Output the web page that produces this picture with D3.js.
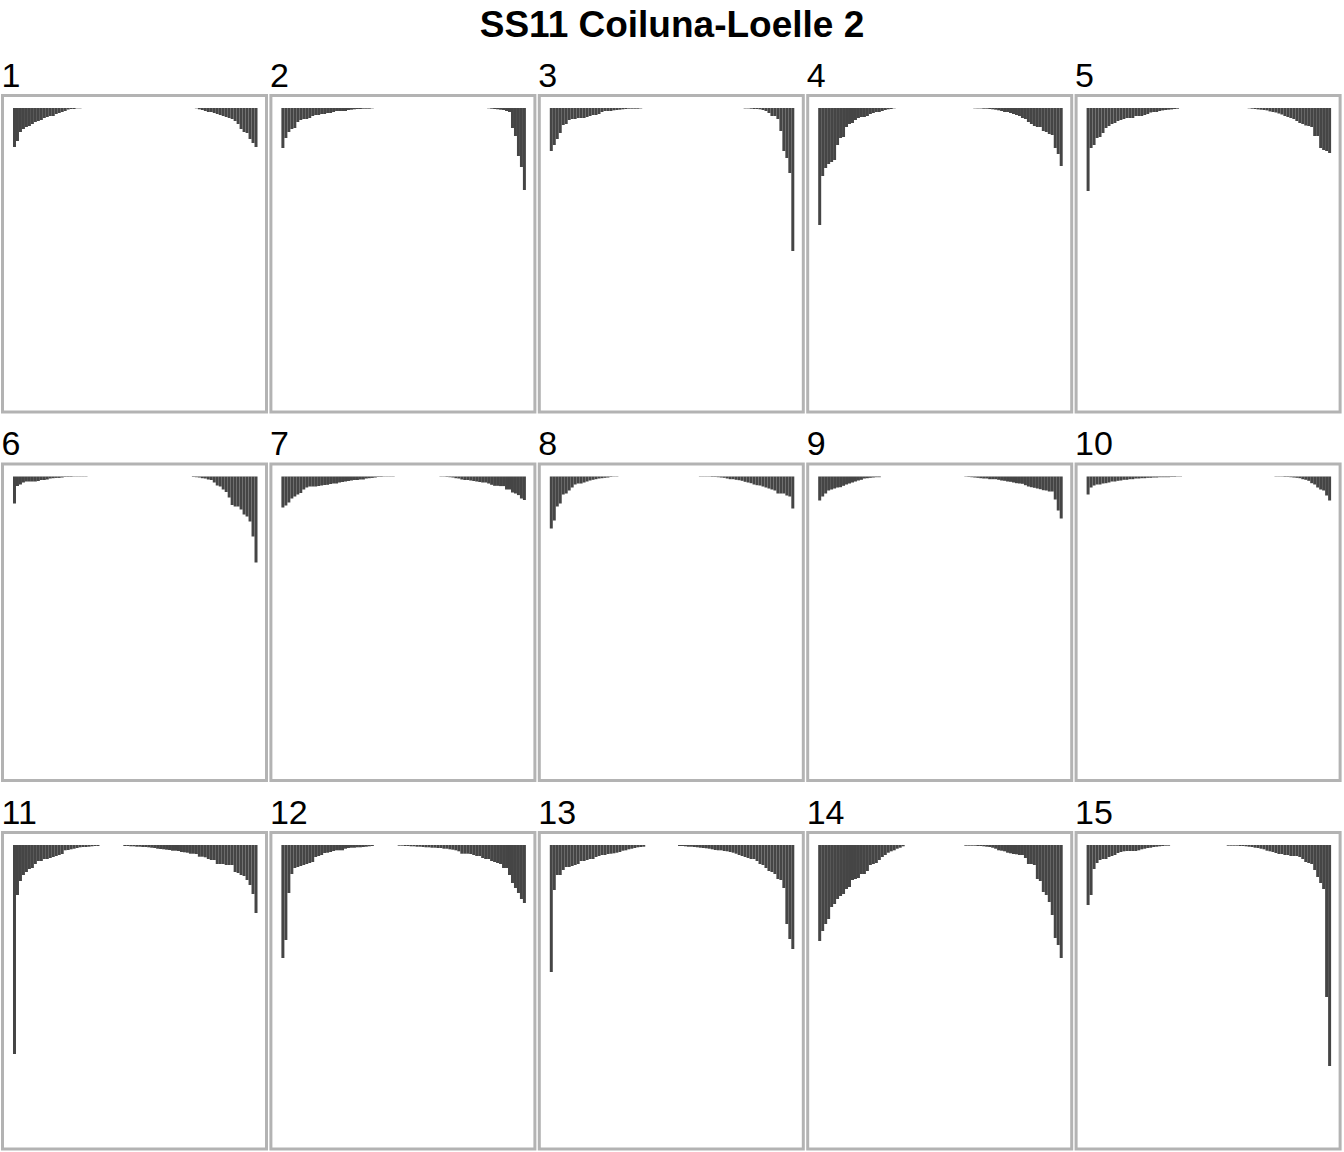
<!DOCTYPE html>
<html>
<head>
<meta charset="utf-8">
<script src="https://cdn.jsdelivr.net/npm/d3@7"></script>
<style>
    body { margin: 0; background: #fff; }
    text { font-family: "Liberation Sans", Arial, sans-serif; }
</style>
</head>
<body>
<div id="chart"></div>
<script>
const title = 'SS11 Coiluna-Loelle 2';
const panels = ['1', '2', '3', '4', '5', '6', '7', '8', '9', '10', '11', '12', '13', '14', '15'];

// depth of each bar, from the left edge of the panel inwards
const leftBars = [
    [39, 33, 24, 21, 19, 18, 16, 14, 13, 12, 10, 9, 8, 8, 6, 5, 4, 3, 1.5, 1, 1, 0.3, 0.3],
    [40, 30, 24, 21, 20, 14, 12, 11, 11, 10, 8, 7, 7, 6, 6, 5, 5, 4, 3, 3, 3, 3, 2, 1.7, 1.3, 1, 1, 0.7, 0.7, 0.7, 0.3],
    [43, 37, 31, 25, 17, 16, 12, 11, 11, 10, 10, 10, 9, 8, 7, 7, 6, 4, 3, 3, 3, 2.3, 2, 1.7, 1.3, 1, 0.7, 0.7, 0.7, 0.7, 0.4],
    [117, 68, 60, 56, 54, 52, 37, 30, 29, 19, 16, 15, 12, 10, 9, 9, 8, 6, 5, 4, 4, 3, 2, 1.3, 1, 0.3],
    [83, 40, 37, 30, 29, 25, 20, 18, 16, 15, 13, 12, 11, 10, 10, 10, 8, 8, 8, 7, 6, 4.5, 4, 4, 3, 2.4, 2, 1.7, 1.4, 1, 0.7],
    [27, 9.5, 8, 6, 5, 5, 5, 5, 4.5, 3.5, 3.5, 3, 2, 1.7, 1.4, 1.4, 1, 0.5, 0.5, 0.5, 0.3, 0.3, 0.3, 0.3, 0.3],
    [31, 29, 26, 22, 20, 18, 16.5, 13, 11, 10, 10, 10, 9.5, 9, 8.5, 8.3, 7.5, 7, 7, 6, 5.5, 5, 4.5, 4, 3.5, 3.5, 3, 3, 2, 1.7, 1.4, 1, 0.5, 0.5, 0.3, 0.3, 0.3, 0.3],
    [52, 44, 30, 27, 18, 17, 14, 11, 8, 7, 7, 6, 5, 4, 3.3, 2.7, 2, 1.7, 1.3, 1, 0.5, 0.3, 0.3],
    [24, 20, 17, 14, 13, 12, 11, 10.7, 9.3, 8, 7, 6, 5, 4, 3.3, 2, 1.7, 1.3, 1, 0.7, 0.7],
    [18, 11, 9, 8, 8, 7, 6.7, 6, 5, 5, 4.3, 4, 3.3, 3.3, 2.7, 2.7, 2, 2, 1.7, 1.7, 1.3, 1.3, 1, 1, 0.7, 0.7, 0.7, 0.7, 0.5, 0.5, 0.3, 0.3],
    [209, 50, 36, 30, 27, 24, 23, 19, 16, 16, 14, 14, 13, 12, 11, 10, 9, 5.3, 5, 4.3, 3.7, 3, 2.3, 2, 2, 1.7, 1.3, 1, 1],
    [113, 95, 48, 29, 23, 22, 21, 20, 19, 18, 17, 12, 11, 10, 8, 7.7, 7, 6, 5.3, 5.3, 5.3, 3.7, 3, 2.7, 2.7, 2.3, 2.3, 2, 1.7, 1.3, 1],
    [127, 45, 30, 30, 25, 22, 22, 21, 20, 19, 16, 16, 15, 14, 14, 12, 11, 10, 10, 9, 8.7, 8.3, 7.7, 7, 5.7, 5.3, 4.3, 3.7, 3, 2.3, 2, 1.7],
    [96, 86, 79, 74, 62, 59, 54, 51, 49, 44, 42, 35, 34, 33, 29, 29, 26, 20, 19, 18, 15, 12, 10, 7.7, 6.3, 5.3, 3.7, 2.7, 1.3],
    [60, 50, 24, 18, 15, 14, 14, 12, 11, 10, 8, 7, 6.3, 6, 6, 6, 6, 5.3, 4.3, 3.7, 3, 2.7, 2, 1.7, 1.3, 1, 0.7, 0.7]
];

// depth of each bar, from the right edge of the panel inwards
const rightBars = [
    [39, 35, 31, 25, 24, 21, 16, 13, 11, 10, 9, 8, 7, 6, 5, 4, 4, 3, 2, 1.3, 0.3],
    [82, 59, 48, 28, 20, 4, 3, 2, 1.7, 1.3, 1, 0.7, 0.3],
    [143, 65, 50, 43, 23, 11, 8, 8, 5, 3, 2, 1.3, 1, 1, 0.7, 0.4, 0.4],
    [58, 46, 40, 27, 26, 24, 23, 19, 19, 18, 16, 14, 11, 10, 8, 7, 6, 5, 4, 4, 3, 2.3, 1.7, 1.3, 1, 0.7, 0.7, 0.4, 0.4, 0.3],
    [45, 43, 42, 40, 28, 28, 19, 18, 17.5, 16, 15, 13, 11, 10, 9, 8, 6.5, 5.5, 4.5, 4, 3.4, 2.4, 2, 1.7, 1.4, 1, 0.7, 0.3],
    [86, 60, 45, 40, 38, 33, 30, 30, 28.5, 21, 15.5, 13, 10, 9, 6, 3.5, 3, 2, 1.7, 1, 0.7, 0.5],
    [23.5, 22, 18.6, 17, 16, 13, 13, 9.6, 9.6, 9.3, 9.3, 8.3, 7, 6, 6, 5.5, 5, 4.5, 4, 3.5, 3.5, 3, 2, 1.7, 1, 0.7, 0.5, 0.3, 0.3],
    [32, 20, 19, 17, 17, 17, 14, 13, 12, 11, 10, 9, 8.7, 8, 6.7, 6, 5.3, 4.3, 3.7, 3.3, 2.7, 2.7, 2, 1.3, 1, 0.7, 0.5, 0.5, 0.3, 0.3, 0.3, 0.3],
    [42, 34, 23, 15, 15, 14, 13.7, 12.7, 12, 11.3, 10.7, 10, 8.7, 7.3, 7, 6.7, 6, 5.3, 5, 4.3, 4, 3.3, 2.7, 2.7, 2.7, 2, 2, 1.7, 1.3, 1, 0.7, 0.5, 0.3],
    [24, 19, 14, 13, 11, 8, 6.7, 4.3, 3.3, 2.7, 1.7, 1.3, 1, 0.7, 0.5, 0.5, 0.3, 0.3, 0.3],
    [68, 49, 40, 35, 31, 30, 28, 27, 20, 20, 20, 19, 19, 19, 15, 15, 14, 12.3, 11.7, 11.7, 9, 8.7, 8.7, 7.7, 7.3, 7, 6, 5.7, 5.7, 5, 4.7, 4.3, 4, 3.7, 3, 2.7, 2.3, 2, 2, 1.7, 1.7, 1.3, 1.3, 1, 1],
    [58, 54, 48, 43, 38, 30, 23, 23, 19, 18, 17, 16, 14, 14, 13, 11, 11, 10, 9, 8.7, 8.7, 8.7, 6.3, 5.3, 4.7, 4.3, 3.7, 3.7, 3, 3, 2.7, 2.7, 2.3, 2.3, 2, 1.7, 1.7, 1.3, 1.3, 1, 1, 0.7, 0.7],
    [104, 94, 79, 43, 35, 34, 29, 27, 26, 23, 20, 19, 16, 14, 14, 13, 12, 11, 10, 8.7, 7.7, 7, 6.3, 6, 5.3, 5.3, 5, 4.3, 3.7, 3.3, 3, 2.7, 2.3, 2, 1.7, 1.7, 1.3, 1, 1],
    [113, 100, 93, 70, 57, 50, 47, 36, 34, 20, 19, 19, 13, 10, 10, 9.3, 9, 8.3, 7.7, 6.3, 5.7, 5.3, 3.7, 2.7, 2, 1.7, 1.3, 1, 1, 0.7, 0.7, 0.7, 0.7],
    [221, 152, 44, 38, 32, 25, 19, 18, 17, 14, 12, 11, 11, 11, 10, 10, 9, 9, 8, 7, 6.3, 5.7, 4.3, 3.7, 3, 2.7, 2, 1.7, 1.3, 1, 1, 0.7, 0.7, 0.7, 0.7]
];

const nSlots = 82;
const width = 1344, height = 1152;
const nCols = 5;
const colPitch = 268.4, rowPitch = 368.5;
const panelW = 264, panelH = 316.5;
const marginLeft = 2.5, marginTop = 95.5;
const barColor = '#454545';
const borderColor = '#b3b3b3';

const svg = d3.select('#chart')
    .append('svg')
    .attr('width', width)
    .attr('height', height);

svg.append('text')
    .attr('x', width / 2)
    .attr('y', 37)
    .attr('text-anchor', 'middle')
    .style('font-size', '37px')
    .style('font-weight', 'bold')
    .text(title);

// positions inside one panel
const x = d3.scaleLinear().domain([0, nSlots]).range([10.5, 255]);
const y = d3.scaleLinear().domain([0, 300]).range([12.5, 312.5]);

panels.forEach(function(label, i) {
    const col = i % nCols, row = Math.floor(i / nCols);
    const g = svg.append('g')
        .attr('transform', 'translate(' + (marginLeft + col * colPitch) + ',' + (marginTop + row * rowPitch) + ')');

    const bars = [];
    leftBars[i].forEach(function(v, k) { bars.push({ slot: k, value: v }); });
    rightBars[i].forEach(function(v, k) { bars.push({ slot: nSlots - 1 - k, value: v }); });

    g.selectAll('rect.bar')
        .data(bars)
        .enter()
        .append('rect')
        .attr('class', 'bar')
        .attr('x', d => x(d.slot))
        .attr('width', d => x(d.slot + 1) - x(d.slot))
        .attr('y', y(0))
        .attr('height', d => y(d.value) - y(0))
        .style('fill', barColor);

    g.append('rect')
        .attr('x', 0)
        .attr('y', 0)
        .attr('width', panelW)
        .attr('height', panelH)
        .style('fill', 'none')
        .style('stroke', borderColor)
        .style('stroke-width', 3);

    g.append('text')
        .attr('x', -1)
        .attr('y', -9)
        .style('font-size', '34px')
        .text(label);
});
</script>
</body>
</html>
